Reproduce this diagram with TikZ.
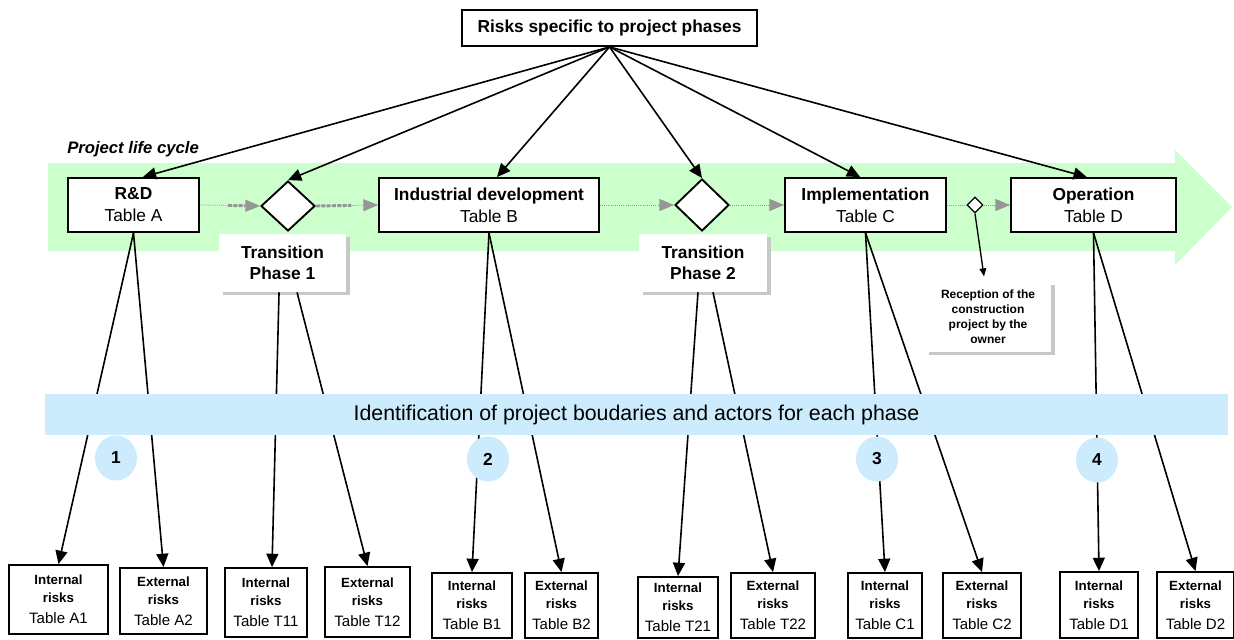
\documentclass[tikz,border=0pt]{standalone}
\usepackage{fontspec}
\setmainfont{Liberation Sans}
\usetikzlibrary{arrows.meta,shapes.geometric,shadows}
\definecolor{lifeGreen}{RGB}{204,255,204}
\definecolor{bandBlue}{RGB}{204,235,252}
\definecolor{flowGray}{RGB}{150,150,150}
\definecolor{shadowGray}{RGB}{200,200,200}
\newcommand{\tbl}[1]{{\mdseries\fontsize{11.3}{13.5}\selectfont Table #1}}

\begin{document}
\begin{tikzpicture}[x=0.75pt, y=-0.75pt,
    phase/.style={draw, line width=1.4pt, fill=white, minimum height=40.5pt, align=center, inner sep=1pt, font=\fontsize{13}{16.5}\selectfont},
    gate/.style={diamond, draw, line width=1.4pt, fill=white, inner sep=0pt, minimum width=40.5pt, minimum height=37.5pt},
    note/.style={fill=white, align=center, inner sep=1pt, drop shadow={shadow xshift=3pt, shadow yshift=-2.5pt, fill=shadowGray, opacity=1}},
    riskbox/.style={draw, line width=1.4pt, fill=white, align=center, inner sep=1pt, font=\fontsize{10}{13.5}\selectfont\bfseries},
    numdot/.style={ellipse, fill=bandBlue, minimum width=31.5pt, minimum height=33.75pt, inner sep=0pt, font=\fontsize{13}{15}\selectfont\bfseries},
    feed/.style={line width=1.2pt, -{Triangle[length=10pt, width=9pt]}},
    flow/.style={flowGray, densely dotted, line width=0.6pt, -{Triangle[length=11pt, width=9pt]}}]
  \useasboundingbox (0,0) rectangle (1234,639);

  \fill[lifeGreen] (48,163) -- (1175,163) -- (1175,150) -- (1232,207) -- (1175,265) -- (1175,251) -- (48,251) -- cycle;
  \node[anchor=base west, inner sep=0pt, font=\fontsize{12.5}{14}\selectfont\bfseries\itshape] (plc) at (67,153) {Project life cycle};

  \node[phase, minimum width=221.25pt, minimum height=27pt, font=\fontsize{13}{15}\selectfont\bfseries] (top) at (609.5,28) {Risks specific to project phases};

  \node[phase, minimum width=98.25pt] (rd) at (133.5,205) {\textbf{R\&D}\\Table A};
  \node[phase, minimum width=165pt] (ind) at (489,205) {\textbf{Industrial development}\\Table B};
  \node[phase, minimum width=120.75pt] (impl) at (865.5,205) {\textbf{Implementation}\\Table C};
  \node[phase, minimum width=123.75pt] (oper) at (1093.5,205) {\textbf{Operation}\\Table D};

  \node[gate] (g1) at (288,206) {};
  \node[gate, minimum height=39pt] (g2) at (702,205) {};
  \node[gate, minimum width=12pt, minimum height=12pt, line width=1pt] (g3) at (975,205) {};

  \node[note, minimum width=95.25pt, minimum height=43.5pt, font=\fontsize{13}{16}\selectfont\bfseries] (tr1) at (282.5,263) {Transition\\Phase 1};
  \node[note, minimum width=96pt, minimum height=43.5pt, font=\fontsize{13}{16}\selectfont\bfseries] (tr2) at (703,263) {Transition\\Phase 2};
  \node[note, minimum width=94.5pt, minimum height=52.5pt, font=\fontsize{9}{11.2}\selectfont\bfseries] (rec) at (988,317) {Reception of the\\construction\\project by the\\owner};

  \draw[flow, postaction={draw=flowGray, -, line width=2.2pt, dash pattern=on 3pt off 1pt, shorten <=21pt, shorten >=11pt}] (rd.east) -- (g1.west);
  \draw[flow, postaction={draw=flowGray, -, line width=2.2pt, dash pattern=on 3pt off 1pt, shorten >=20pt}] (g1.east) -- (ind.west);
  \draw[flow] (ind.east) -- (g2.west);
  \draw[flow] (g2.east) -- (impl.west);
  \draw[flow, -] (impl.east) -- (g3.west);
  \draw[flow] (g3.east) -- (oper.west);
  \draw[line width=1pt, -{Triangle[length=6pt, width=5pt]}] (g3.south) -- ([xshift=-3pt, yshift=4pt]rec.north);

  \draw[feed] (top.south) -- ([xshift=7pt]rd.north);
  \draw[feed] (top.south) -- (g1.north);
  \draw[feed] (top.south) -- ([xshift=6pt]ind.north);
  \draw[feed] (top.south) -- (g2.north);
  \draw[feed] (top.south) -- ([xshift=-4pt]impl.north);
  \draw[feed] (top.south) -- ([xshift=-5pt]oper.north);

  \node[riskbox, minimum width=74.25pt, minimum height=51.75pt] (a1) at (58.5,599.5) {Internal\\risks\\[2pt]\tbl{A1}};
  \node[riskbox, minimum width=65.25pt, minimum height=49.5pt] (a2) at (163.5,601) {External\\risks\\[2pt]\tbl{A2}};
  \node[riskbox, minimum width=61.5pt, minimum height=51.75pt] (t11) at (266,602.5) {Internal\\risks\\[2pt]\tbl{T11}};
  \node[riskbox, minimum width=63.75pt, minimum height=52.5pt] (t12) at (367.5,602) {External\\risks\\[2pt]\tbl{T12}};
  \node[riskbox, minimum width=60pt, minimum height=48.75pt] (b1) at (472,605.5) {Internal\\risks\\[2pt]\tbl{B1}};
  \node[riskbox, minimum width=54.75pt, minimum height=48.75pt] (b2) at (561.5,605.5) {External\\risks\\[2pt]\tbl{B2}};
  \node[riskbox, minimum width=60pt, minimum height=45.75pt] (t21) at (678,607.5) {Internal\\risks\\[2pt]\tbl{T21}};
  \node[riskbox, minimum width=63pt, minimum height=48.75pt] (t22) at (773,605.5) {External\\risks\\[2pt]\tbl{T22}};
  \node[riskbox, minimum width=55.5pt, minimum height=48.75pt] (c1) at (885,605.5) {Internal\\risks\\[2pt]\tbl{C1}};
  \node[riskbox, minimum width=58.5pt, minimum height=48.75pt] (c2) at (982,605.5) {External\\risks\\[2pt]\tbl{C2}};
  \node[riskbox, minimum width=58.5pt, minimum height=49.5pt] (d1) at (1099,605) {Internal\\risks\\[2pt]\tbl{D1}};
  \node[riskbox, minimum width=57.75pt, minimum height=49.5pt] (d2) at (1195.5,605) {External\\risks\\[2pt]\tbl{D2}};

  \draw[feed] (rd.south) -- (a1.north);
  \draw[feed] (rd.south) -- (a2.north);
  \draw[feed] ([xshift=-2.6pt]tr1.south) -- ([xshift=4.5pt]t11.north);
  \draw[feed] ([xshift=10.9pt]tr1.south) -- (t12.north);
  \draw[feed] (ind.south) -- (b1.north);
  \draw[feed] (ind.south) -- (b2.north);
  \draw[feed] ([xshift=-3.75pt]tr2.south) -- (t21.north);
  \draw[feed] ([xshift=7.5pt]tr2.south) -- (t22.north);
  \draw[feed] (impl.south) -- (c1.north);
  \draw[feed] (impl.south) -- (c2.north);
  \draw[feed] (oper.south) -- (d1.north);
  \draw[feed] (oper.south) -- (d2.north);

  \node[fill=bandBlue, minimum width=887.25pt, minimum height=30.75pt, inner sep=0pt, font=\fontsize{16}{18}\selectfont] (idband) at (636.5,414.5) {Identification of project boudaries and actors for each phase};
  \node[numdot] (n1) at (116,458) {1};
  \node[numdot] (n2) at (488,459) {2};
  \node[numdot] (n3) at (877,459) {3};
  \node[numdot] (n4) at (1097,460) {4};
\end{tikzpicture}
\end{document}
